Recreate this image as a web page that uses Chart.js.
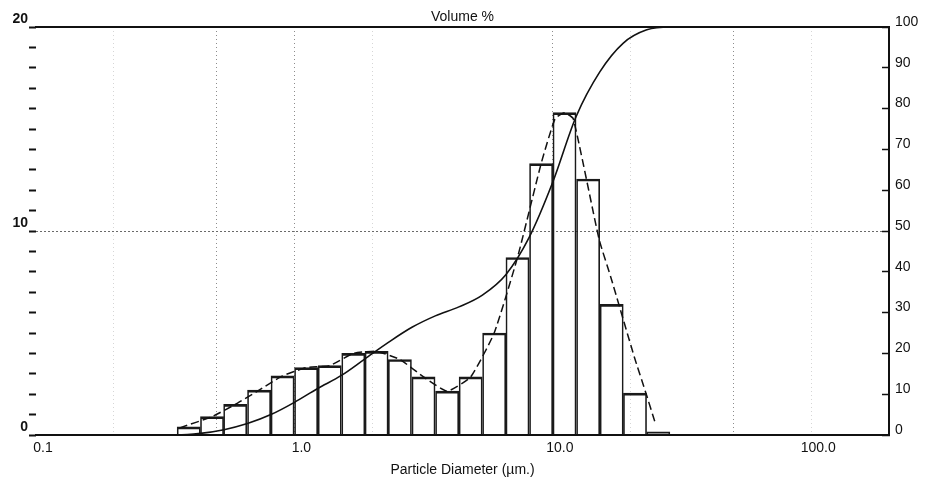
<!DOCTYPE html>
<html>
<head>
<meta charset="utf-8">
<script src="https://cdn.jsdelivr.net/npm/chart.js@4.4.1/dist/chart.umd.min.js"></script>
<style>
html,body{margin:0;padding:0;background:#fff;}
canvas{display:block;}
</style>
</head>
<body>
<canvas id="c" width="927" height="483" style="width:927px;height:483px"></canvas>
<script>
// ---- data ----
// histogram bins (geometric centres, µm) and volume % in each bin
const binCenters = [0.39, 0.48, 0.59, 0.73, 0.90, 1.11, 1.37, 1.69, 2.08, 2.56, 3.16, 3.90, 4.81, 5.93, 7.30, 9.01, 11.1, 13.7, 16.9, 20.8, 25.6];
const volumeFreq = [0.4, 0.9, 1.5, 2.2, 2.9, 3.3, 3.4, 4.0, 4.1, 3.7, 2.85, 2.15, 2.85, 5.0, 8.7, 13.3, 15.8, 12.55, 6.4, 2.05, 0.15];

// dashed frequency curve (µm, volume %)
const freqCurveX = [0.36, 0.48, 0.59, 0.73, 0.90, 1.11, 1.37, 1.69, 2.08, 2.56, 3.16, 3.90, 4.81, 5.93, 7.30, 9.01, 10.2, 11.1, 12.0, 15.1, 16.8, 20.7, 23.0, 24.9];
const freqCurveY = [0.35, 0.9, 1.5, 2.2, 2.9, 3.3, 3.4, 4.0, 4.1, 3.7, 2.85, 2.15, 2.85, 5.0, 8.7, 13.3, 15.5, 15.8, 15.5, 9.6, 7.7, 3.8, 2.0, 0.6];

// cumulative undersize curve (µm, cumulative %)
const cumX = [0.1, 0.285, 0.351, 0.433, 0.534, 0.658, 0.811, 1.0, 1.23, 1.52, 1.87, 2.31, 2.85, 3.51, 4.33, 5.34, 6.58, 8.11, 10.0, 12.3, 15.2, 18.7, 23.1, 28.5, 200];
const cumY = [0, 0, 0, 0.4, 1.3, 2.8, 5.0, 8.0, 11.4, 14.6, 18.6, 22.7, 26.4, 29.2, 31.4, 34.3, 39.3, 48.5, 62, 78, 89, 96, 99.3, 100, 100];

// axis ticks / labels
const xTickValues = [0.1, 1, 10, 100];
const xTickLabels = ['0.1', '1.0', '10.0', '100.0'];
const xGridMajor = [0.5, 1, 10, 50];
const xGridMinor = [0.2, 2, 20, 100];
const xMin = 0.1, xMax = 200;
const leftLabelValues = [0, 10, 20];
const leftMax = 20, rightMax = 100;

const xAllTicks = [...new Set([xMin, ...xTickValues, ...xGridMajor, ...xGridMinor, xMax])].sort((a, b) => a - b);

Chart.defaults.font.family = '"Liberation Sans", Arial, sans-serif';
Chart.defaults.color = '#111';

new Chart(document.getElementById('c'), {
  type: 'bar',
  data: {
    datasets: [
      {
        type: 'line',
        label: 'cumulative',
        data: cumX.map((x, i) => ({x: x, y: cumY[i]})),
        xAxisID: 'x', yAxisID: 'y2',
        borderColor: '#111', borderWidth: 1.6, pointRadius: 0,
        cubicInterpolationMode: 'monotone', fill: false, order: 1
      },
      {
        type: 'line',
        label: 'frequency curve',
        data: freqCurveX.map((x, i) => ({x: x, y: freqCurveY[i]})),
        xAxisID: 'x', yAxisID: 'y',
        borderColor: '#111', borderWidth: 1.5, borderDash: [8, 4], pointRadius: 0,
        tension: 0.15, fill: false, order: 2
      },
      {
        type: 'bar',
        label: 'volume %',
        data: binCenters.map((x, i) => ({x: x, y: volumeFreq[i]})),
        xAxisID: 'x', yAxisID: 'y',
        backgroundColor: 'rgba(255,255,255,0)',
        borderColor: '#1a1a1a',
        borderWidth: {top: 2, left: 1, right: 1, bottom: 0},
        borderSkipped: 'start',
        barPercentage: 1, categoryPercentage: 1, order: 3
      }
    ]
  },
  options: {
    responsive: false,
    animation: false,
    devicePixelRatio: 1,
    layout: {padding: 0},
    plugins: {legend: {display: false}, tooltip: {enabled: false}},
    scales: {
      x: {
        type: 'logarithmic', position: 'bottom', min: xMin, max: xMax, offset: false,
        afterBuildTicks: (scale) => { scale.ticks = xAllTicks.map(v => ({value: v})); },
        afterFit: (scale) => { scale.height = 48; },
        ticks: {
          autoSkip: false, maxRotation: 0, padding: 5, labelOffset: 7,
          font: {size: 14}, color: '#111',
          callback: (v) => { const i = xTickValues.indexOf(v); return i >= 0 ? xTickLabels[i] : ''; }
        },
        grid: {
          offset: false,
          drawTicks: false,
          lineWidth: 1,
          color: (ctx) => {
            const v = ctx.tick && ctx.tick.value;
            if (xGridMajor.includes(v)) return '#8c8c8c';
            if (xGridMinor.includes(v)) return '#d6d6d6';
            return 'rgba(0,0,0,0)';
          }
        },
        border: {display: true, color: '#111', width: 2, dash: [1, 3]},
        title: {display: true, text: 'Particle Diameter (µm.)', font: {size: 14}, color: '#111', padding: {top: 0, bottom: 4}}
      },
      x2: {
        type: 'logarithmic', position: 'top', min: xMin, max: xMax, offset: false,
        afterFit: (scale) => { scale.height = 27; },
        ticks: {display: false},
        grid: {display: false, drawTicks: false, offset: false},
        border: {display: true, color: '#111', width: 2},
        title: {display: true, text: 'Volume %', font: {size: 14}, color: '#111', padding: {top: 9, bottom: 0}}
      },
      y: {
        type: 'linear', position: 'left', min: 0, max: leftMax,
        afterFit: (scale) => { scale.width = 36; },
        ticks: {
          stepSize: 1, autoSkip: false, maxTicksLimit: 40, padding: 1, labelOffset: -8,
          font: {size: 14, weight: 'bold'}, color: '#111',
          callback: (v) => leftLabelValues.includes(v) ? String(v) : ''
        },
        grid: {
          drawOnChartArea: true,
          color: (ctx) => (ctx.tick && ctx.tick.value === 10) ? '#6a6a6a' : 'rgba(0,0,0,0)',
          lineWidth: 1,
          tickColor: '#111', tickLength: 7, tickWidth: 2, tickBorderDash: []
        },
        border: {display: false, dash: [2, 2]}
      },
      y2: {
        type: 'linear', position: 'right', min: 0, max: rightMax,
        afterFit: (scale) => { scale.width = 38; },
        ticks: {
          stepSize: 10, autoSkip: false, padding: 13, labelOffset: -5,
          font: {size: 14}, color: '#111'
        },
        grid: {
          drawOnChartArea: false,
          tickColor: '#111', tickLength: -7, tickWidth: 1.5
        },
        border: {display: true, color: '#111', width: 2}
      }
    }
  }
});
</script>
</body>
</html>
